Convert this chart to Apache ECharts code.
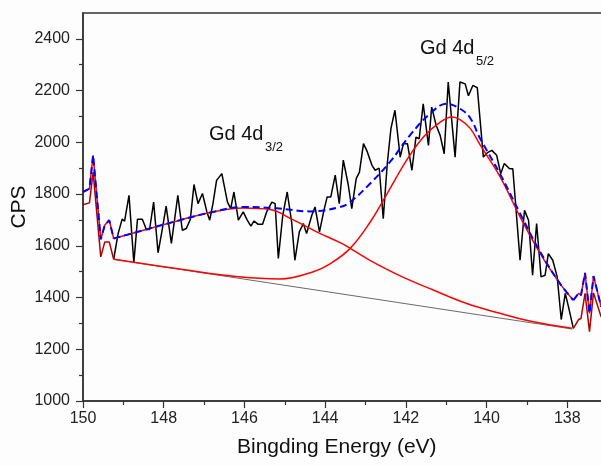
<!DOCTYPE html>
<html>
<head>
<meta charset="utf-8">
<title>Gd 4d XPS</title>
<script src="https://cdn.jsdelivr.net/npm/echarts@6/dist/echarts.min.js"></script>
<style>
    html, body { margin: 0; padding: 0; background: #fdfdfd; }
    #chart { width: 601px; height: 466px; }
</style>
</head>
<body>
<div id="chart"></div>
<script type="text/javascript">

    // raw spectrum (black)
    var rawEnergy = [149.24, 149.13, 149.03, 148.97, 148.86, 148.74, 148.65, 148.53, 148.43, 148.35,
        148.25, 148.14, 148.04, 147.94, 147.81, 147.65, 147.54, 147.44, 147.34, 147.25,
        147.15, 147.04, 146.93, 146.86, 146.78, 146.69, 146.56, 146.42, 146.34, 146.26,
        146.15, 146.03, 145.93, 145.84, 145.76, 145.66, 145.55, 145.45, 145.32, 145.24,
        145.16, 145.05, 144.94, 144.83, 144.75, 144.64, 144.54, 144.46, 144.33, 144.25,
        144.14, 144.03, 143.95, 143.86, 143.75, 143.65, 143.55, 143.43, 143.34, 143.23,
        143.15, 143.05, 142.97, 142.84, 142.76, 142.66, 142.56, 142.46, 142.37, 142.27,
        142.14, 142.06, 141.96, 141.85, 141.75, 141.67, 141.57, 141.44, 141.36, 141.25,
        141.15, 141.05, 140.95, 140.78, 140.66, 140.53, 140.45, 140.34, 140.23, 140.08,
        139.98, 139.87, 139.75, 139.65, 139.56, 139.43, 139.35, 139.17, 139.06, 138.96,
        138.86, 138.76, 138.65, 138.55, 138.47, 138.36, 138.25, 138.15, 138.05, 137.97, 137.85];
    var rawCounts = [1548, 1647, 1703, 1695, 1795, 1534, 1703, 1703, 1663, 1663,
        1769, 1573, 1660, 1753, 1609, 1795, 1660, 1667, 1702, 1837,
        1763, 1802, 1731, 1699, 1763, 1853, 1879, 1769, 1744, 1808,
        1699, 1731, 1699, 1676, 1696, 1683, 1683, 1731, 1769, 1763,
        1551, 1718, 1808, 1692, 1544, 1654, 1686, 1647, 1718, 1750,
        1654, 1737, 1789, 1789, 1873, 1763, 1931, 1838, 1744, 1860,
        1885, 1995, 1969, 1911, 1892, 1900, 1705, 1918, 2053, 2124,
        1943, 1995, 1995, 1892, 2020, 2014, 2149, 1988, 2136, 2066,
        2027, 1956, 2233, 1943, 2233, 2226, 2180, 2220, 2211, 1943,
        1960, 1969, 1950, 1879, 1918, 1898, 1898, 1544, 1737, 1699,
        1486, 1686, 1480, 1486, 1570, 1544, 1480, 1315, 1416, 1364, 1281];

    // linear background
    var bgEnergy = [149.24, 137.87];
    var bgCounts = [1548, 1278];

    // Gd 4d3/2 component + background
    var p1Energy = [149.24, 147.60, 146.78, 146.03, 145.37, 144.79, 144.21, 143.63, 143.38, 142.89,
        142.14, 141.32, 140.49, 139.67, 138.84, 137.89];
    var p1Counts = [1628, 1699, 1731, 1746, 1740, 1700, 1654, 1612, 1590, 1544,
        1484, 1429, 1377, 1339, 1306, 1281];

    // Gd 4d5/2 component + background
    var p2Energy = [149.24, 147.60, 146.36, 145.12, 144.29, 143.88, 143.38, 142.89, 142.47, 141.98,
        141.57, 141.15, 140.86, 140.66, 140.41, 140.16, 139.67, 139.17, 138.67, 138.18, 137.85];
    var p2Counts = [1548, 1510, 1484, 1472, 1500, 1530, 1590, 1690, 1800, 1931,
        2020, 2078, 2098, 2088, 2055, 1990, 1868, 1712, 1570, 1454, 1390];

    // envelope (blue dashed)
    var envEnergy = [149.24, 147.60, 146.78, 146.03, 145.20, 144.37, 143.63, 143.38, 142.89, 142.39,
        141.90, 141.40, 140.99, 140.66, 140.41, 140.16, 139.67, 139.17, 138.67, 138.18, 137.85];
    var envCounts = [1628, 1699, 1731, 1750, 1745, 1733, 1750, 1769, 1840, 1925,
        2027, 2111, 2149, 2130, 2095, 2015, 1879, 1725, 1576, 1454, 1390];

    // parts outside the fit region
    var tailLEnergy = [150.00, 149.84, 149.75, 149.56, 149.46, 149.35, 149.24];
    var tailLUpper = [1808, 1821, 1950, 1625, 1680, 1699, 1628];
    var tailLLower = [1759, 1766, 1885, 1557, 1615, 1615, 1548];
    var tailREnergy = [137.85, 137.72, 137.66, 137.56, 137.45, 137.35, 137.16];
    var tailRUpper = [1390, 1416, 1409, 1495, 1339, 1483, 1364];
    var tailRLower = [1281, 1315, 1319, 1416, 1268, 1418, 1325];

    var yTicks = [1000, 1200, 1400, 1600, 1800, 2000, 2200, 2400];
    var yMinorTicks = [1100, 1300, 1500, 1700, 1900, 2100, 2300];

    function pairs(xs, ys) {
        var out = [];
        for (var i = 0; i < xs.length; i++) out.push([xs[i], ys[i]]);
        return out;
    }

    var font = '"Liberation Sans", Arial, sans-serif';
    var axisColor = '#333';
    var plain = function (v) { return String(v); };

    function line(data, color, width, extra) {
        var s = {
            type: 'line',
            data: data,
            symbol: 'none',
            silent: true,
            animation: false,
            lineStyle: { color: color, width: width }
        };
        for (var k in extra) s[k] = extra[k];
        return s;
    }

    var chart = echarts.init(document.getElementById('chart'), null, { renderer: 'canvas' });
    chart.setOption({
        animation: false,
        backgroundColor: '#fdfdfd',
        grid: {
            left: 83, top: 13, right: -47, bottom: 65,
            outerBoundsMode: 'none',
            containLabel: false,
            show: true, borderColor: axisColor, borderWidth: 1.5,
            backgroundColor: 'transparent'
        },
        xAxis: {
            type: 'value',
            inverse: true,
            min: 136, max: 150, interval: 2,
            axisLine: { lineStyle: { color: axisColor, width: 1.5 } },
            axisTick: { length: 7, inside: false, lineStyle: { color: axisColor, width: 1.2 } },
            minorTick: { show: true, splitNumber: 2, length: 4, lineStyle: { color: axisColor, width: 1.2 } },
            axisLabel: { fontFamily: font, fontSize: 16, color: '#222', margin: 10, formatter: plain },
            splitLine: { show: false }
        },
        yAxis: [{
            type: 'value',
            min: 1000, max: 2500, interval: 200,
            name: 'CPS',
            nameLocation: 'middle',
            nameGap: 53,
            nameMoveOverlap: false,
            nameTextStyle: { fontFamily: font, fontSize: 21, color: '#111' },
            axisLine: { lineStyle: { color: axisColor, width: 1.5 } },
            axisTick: { length: 7, customValues: yTicks, lineStyle: { color: axisColor, width: 1.2 } },
            axisLabel: { fontFamily: font, fontSize: 16, color: '#222', margin: 13, customValues: yTicks, formatter: plain },
            splitLine: { show: false }
        }, {
            type: 'value',
            position: 'left',
            min: 1000, max: 2500,
            axisLine: { show: false },
            axisTick: { length: 4, customValues: yMinorTicks, lineStyle: { color: axisColor, width: 1.2 } },
            axisLabel: { show: false },
            splitLine: { show: false }
        }],
        series: [
            line(pairs(rawEnergy, rawCounts), '#000', 1.5, { z: 2 }),
            line(pairs(bgEnergy, bgCounts), '#444', 0.8, { z: 3 }),
            line(pairs(tailLEnergy, tailLLower), '#b00000', 1.5, { z: 3 }),
            line(pairs(tailREnergy, tailRLower), '#b00000', 1.5, { z: 3 }),
            line(pairs(tailLEnergy, tailLUpper), '#ff0000', 1.5, { z: 3 }),
            line(pairs(tailREnergy, tailRUpper), '#ff0000', 1.5, { z: 3 }),
            line(pairs(p1Energy, p1Counts), '#ff0000', 1.5, { z: 4, smooth: 0.4 }),
            line(pairs(p2Energy, p2Counts), '#ff0000', 1.5, { z: 4, smooth: 0.4 }),
            line(pairs(envEnergy, envCounts), '#0000ff', 2, { z: 5, smooth: 0.4, lineStyle: { color: '#0000ff', width: 2, type: [7, 4] } }),
            line(pairs(tailLEnergy, tailLUpper), '#0000ff', 2, { z: 5, lineStyle: { color: '#0000ff', width: 2, type: [7, 4] } }),
            line(pairs(tailREnergy, tailRUpper), '#0000ff', 2, { z: 5, lineStyle: { color: '#0000ff', width: 2, type: [7, 4] } })
        ],
        graphic: [
            { type: 'text', left: 237, top: 437, style: { text: 'Bingding Energy (eV)', font: '21px ' + font, fill: '#111' } },
            { type: 'text', left: 209, top: 124, style: { text: 'Gd 4d', font: '20px ' + font, fill: '#111' } },
            { type: 'text', left: 265, top: 141, style: { text: '3/2', font: '13px ' + font, fill: '#111' } },
            { type: 'text', left: 420, top: 38, style: { text: 'Gd 4d', font: '20px ' + font, fill: '#111' } },
            { type: 'text', left: 476, top: 55, style: { text: '5/2', font: '13px ' + font, fill: '#111' } }
        ]
    });
</script>
</body>
</html>
